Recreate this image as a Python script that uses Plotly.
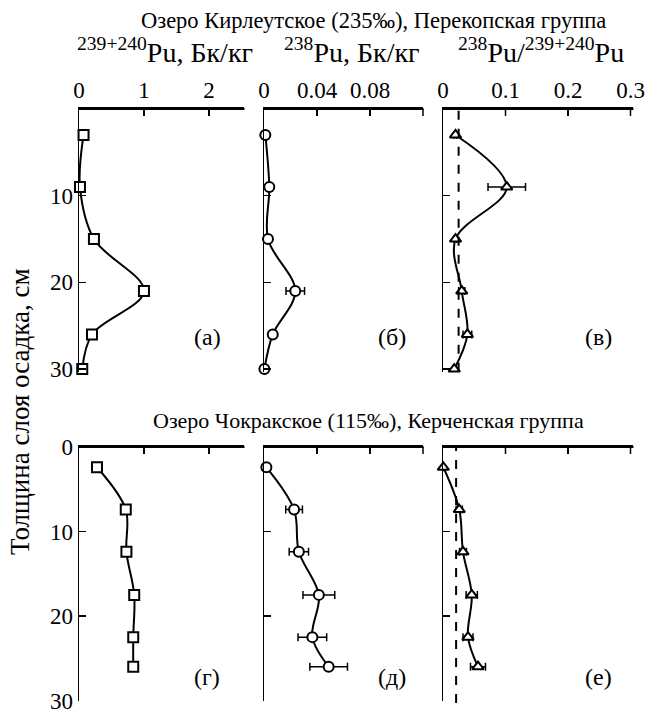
import plotly.graph_objects as go

# ---------------- data ----------------
depth_kir = [3, 9, 15, 21, 26, 30]
pu239_kir = [0.07, 0.015, 0.23, 1.0, 0.2, 0.05]
pu239_kir_err = [0, 0, 0, 0.05, 0, 0]
pu238_kir = [0.001, 0.004, 0.003, 0.0236, 0.0066, 0.0003]
pu238_kir_err = [0, 0, 0, 0.007, 0, 0]
ratio_kir = [0.020, 0.102, 0.020, 0.030, 0.039, 0.018]
ratio_kir_err = [0.002, 0.030, 0.002, 0.005, 0.007, 0.002]

depth_chok = [2.4, 7.4, 12.4, 17.5, 22.5, 26]
pu239_chok = [0.277, 0.72, 0.73, 0.85, 0.835, 0.835]
pu239_chok_err = [0, 0.03, 0.02, 0.03, 0.03, 0.03]
pu238_chok = [0.0018, 0.0227, 0.0263, 0.0414, 0.0365, 0.0488]
pu238_chok_err = [0, 0.0063, 0.0073, 0.012, 0.0108, 0.0142]
ratio_chok = [0.0005, 0.026, 0.032, 0.046, 0.040, 0.056]
ratio_chok_err = [0, 0.005, 0.0055, 0.009, 0.008, 0.012]

ref_ratio_kir = 0.025
ref_ratio_chok = 0.021

title_kir = "Озеро Кирлеутское (235‰), Перекопская группа"
title_chok = "Озеро Чокракское (115‰), Керченская группа"
headers = ["<sup>239+240</sup>Pu, Бк/кг", "<sup>238</sup>Pu, Бк/кг",
           "<sup>238</sup>Pu/<sup>239+240</sup>Pu"]
panel_labels = ["(а)", "(б)", "(в)", "(г)", "(д)", "(е)"]
ytitle = "Толщина слоя осадка, см"

x_ranges = [[0, 2.54], [0, 0.12], [0, 0.304]]
x_tickvals = [[0, 1, 2], [0, 0.04, 0.08, 0.12], [0, 0.1, 0.2, 0.3]]
x_ticktext = [["0", "1", "2"], ["0", "0.04", "0.08", " "], ["0", "0.1", "0.2", "0.3"]]

# ---------------- layout geometry ----------------
W, H = 650, 712
FONT = "Liberation Serif"
col_px = [(79, 244), (264, 423), (443, 633)]
row_px = [(109, 371.7), (447, 700.5)]
y_ranges = [[30.3, 0], [30, 0]]
TICKLEN = 7


def fx(p):
    return p / W


def fy(p):
    return 1 - p / H


fig = go.Figure()

series = [
    (depth_kir, pu239_kir, pu239_kir_err, "square"),
    (depth_kir, pu238_kir, pu238_kir_err, "circle"),
    (depth_kir, ratio_kir, ratio_kir_err, "triangle-up"),
    (depth_chok, pu239_chok, pu239_chok_err, "square"),
    (depth_chok, pu238_chok, pu238_chok_err, "circle"),
    (depth_chok, ratio_chok, ratio_chok_err, "triangle-up"),
]

for i, (d, v, e, sym) in enumerate(series):
    n = i + 1
    xa = "x" if n == 1 else f"x{n}"
    ya = "y" if n == 1 else f"y{n}"
    fig.add_trace(go.Scatter(
        x=v, y=d, xaxis=xa, yaxis=ya, mode="lines+markers",
        line=dict(color="black", width=2, shape="spline", smoothing=1.0),
        marker=dict(symbol=sym, size=10, color="white",
                    line=dict(color="black", width=2)),
        error_x=dict(type="data", array=e, visible=True, color="black",
                     thickness=1.5, width=4),
        cliponaxis=False, showlegend=False, hoverinfo="skip",
    ))

layout = dict(
    template="none",
    width=W, height=H, margin=dict(l=0, r=0, t=0, b=0, pad=0),
    paper_bgcolor="white", plot_bgcolor="rgba(0,0,0,0)",
    font=dict(family=FONT, color="black", size=23),
    showlegend=False,
)

shapes = []
for r in range(2):
    for c in range(3):
        n = r * 3 + c + 1
        xk = "xaxis" if n == 1 else f"xaxis{n}"
        yk = "yaxis" if n == 1 else f"yaxis{n}"
        ya = "y" if n == 1 else f"y{n}"
        xa = "x" if n == 1 else f"x{n}"
        layout[xk] = dict(
            domain=[fx(col_px[c][0]), fx(col_px[c][1])],
            range=x_ranges[c], anchor=ya, side="top", automargin=False,
            showline=True, linecolor="black", linewidth=2,
            ticks="inside", ticklen=TICKLEN, tickwidth=1.5, tickcolor="black",
            tickvals=x_tickvals[c], ticktext=x_ticktext[c],
            showticklabels=(r == 0), showgrid=False, zeroline=False,
            tickfont=dict(family=FONT, size=23, color="black"),
            ticklabeloverflow="allow", fixedrange=True,
        )
        if r == 0:
            yt = [10, 20, 30]
        else:
            yt = [0, 10, 20, 30]
        layout[yk] = dict(
            domain=[fy(row_px[r][1]), fy(row_px[r][0])],
            range=y_ranges[r], anchor=xa, automargin=False,
            showline=True, linecolor="black", linewidth=1.5,
            ticks="inside", ticklen=TICKLEN, tickwidth=1.5, tickcolor="black",
            tickvals=yt, showticklabels=(c == 0), showgrid=False,
            zeroline=False, tickfont=dict(family=FONT, size=23, color="black"),
            ticklabeloverflow="allow", fixedrange=True,
        )
        # top axis bar and inward ticks drawn as filled rectangles (paper refs)
        x0p, x1p = col_px[c]
        ytop = row_px[r][0]
        shapes.append(dict(type="rect", xref="paper", yref="paper",
                           x0=fx(x0p - 1), x1=fx(x1p + 0.5),
                           y0=fy(ytop - 1), y1=fy(ytop + 1),
                           fillcolor="black", line=dict(width=0), layer="above"))
        lo, hi = x_ranges[c]
        for tv in x_tickvals[c][1:]:
            px = x0p + (tv - lo) / (hi - lo) * (x1p - x0p)
            shapes.append(dict(type="rect", xref="paper", yref="paper",
                               x0=fx(px - 0.75), x1=fx(px + 0.75),
                               y0=fy(ytop), y1=fy(ytop + TICKLEN),
                               fillcolor="black", line=dict(width=0),
                               layer="above"))

fig.update_layout(**layout)

# reference (global fallout) ratio lines
shapes.append(dict(type="line", xref="x3", yref="y3 domain", x0=ref_ratio_kir,
                   x1=ref_ratio_kir, y0=0, y1=1,
                   line=dict(color="black", width=2, dash="dash")))
shapes.append(dict(type="line", xref="x6", yref="y6 domain", x0=ref_ratio_chok,
                   x1=ref_ratio_chok, y0=-0.01, y1=1,
                   line=dict(color="black", width=2, dash="dash")))
fig.update_layout(shapes=shapes)

ann = []
ann.append(dict(text=title_kir, x=fx(373), y=fy(21), font=dict(size=22.5)))
ann.append(dict(text=title_chok, x=fx(368), y=fy(420), font=dict(size=22)))
hdr_x = [165, 352, 541]
for hx, ht in zip(hdr_x, headers):
    ann.append(dict(text=ht, x=fx(hx), y=fy(50), font=dict(size=28)))
lab_pos = [(207, 337), (392, 337), (598, 337), (207, 677), (392, 677), (598, 677)]
for (lx, ly), lt in zip(lab_pos, panel_labels):
    ann.append(dict(text=lt, x=fx(lx), y=fy(ly), font=dict(size=24)))
ann.append(dict(text=ytitle, x=fx(20), y=fy(412), textangle=-90,
                font=dict(size=27)))
for a in ann:
    a.update(xref="paper", yref="paper", showarrow=False,
             xanchor="center", yanchor="middle")
    a["font"]["family"] = FONT
    a["font"]["color"] = "black"
fig.update_layout(annotations=ann)

fig.write_html(
    "out.html",
    config={"displayModeBar": False, "staticPlot": True},
    post_script="document.body.style.margin='0';document.body.style.padding='0';",
)
